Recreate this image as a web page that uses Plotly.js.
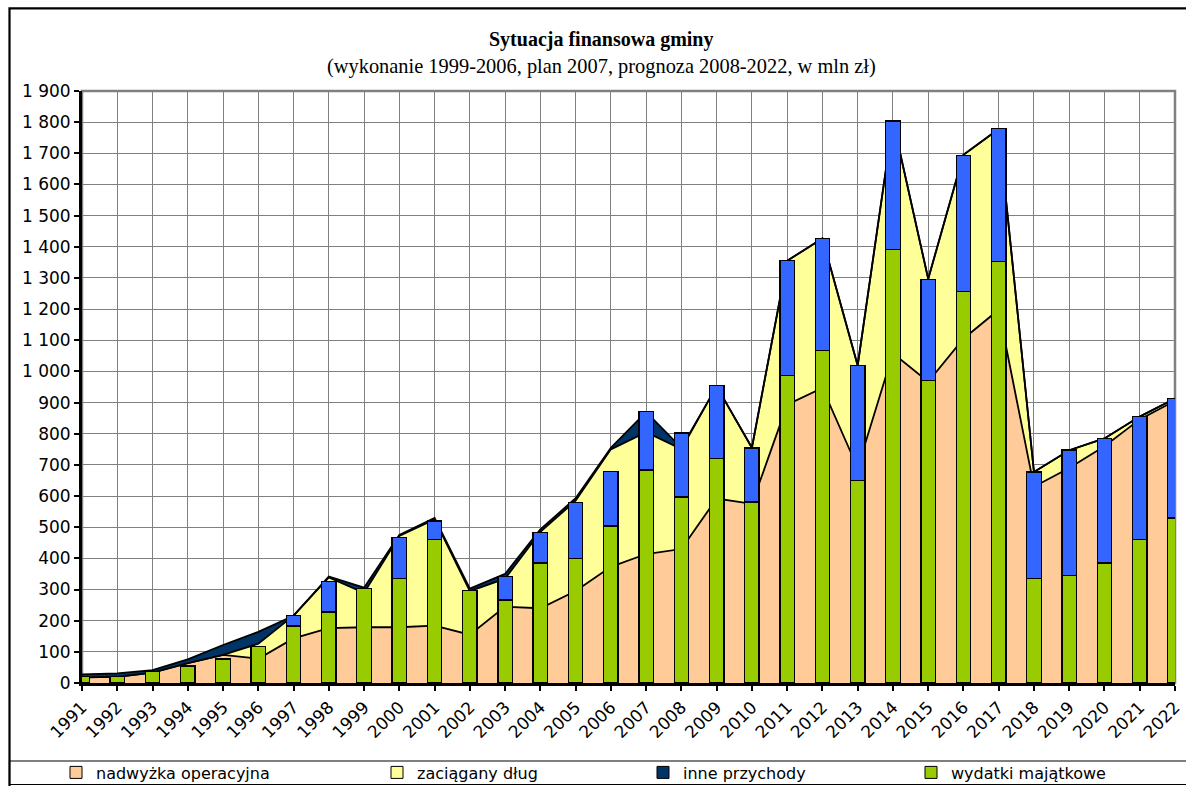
<!DOCTYPE html>
<html>
<head>
<meta charset="utf-8">
<script src="https://cdn.plot.ly/plotly-3.0.1.min.js"></script>
<style>
  html, body { margin: 0; padding: 0; background: #ffffff; }
  #chart { width: 1186px; height: 786px; }
</style>
</head>
<body>
<div id="chart"></div>
<script>
// ---- data (mln zł) ----
const years = [1991, 1992, 1993, 1994, 1995, 1996, 1997, 1998, 1999, 2000,
               2001, 2002, 2003, 2004, 2005, 2006, 2007, 2008, 2009, 2010,
               2011, 2012, 2013, 2014, 2015, 2016, 2017, 2018, 2019, 2020,
               2021, 2022];
// stacked areas
const nadwyzkaOperacyjna = [18, 20, 33, 64, 90, 78, 143, 176, 179, 179,
                            184, 155, 245, 240, 295, 373, 414, 430, 592, 575,
                            893, 947, 690, 1058, 967, 1105, 1198, 630, 690, 760,
                            846, 906];
const zaciaganyDlug = [0, 0, 0, 0, 0, 48, 73, 163, 110, 293,
                       341, 140, 90, 245, 290, 377, 391, 321, 360, 180,
                       462, 480, 329, 746, 330, 590, 580, 47, 57, 25,
                       9, 7];
const innePrzychody = [10, 11, 8, 12, 32, 38, 0, 3, 17, 3,
                       5, 8, 15, 8, 8, 5, 65, 4, 0, 0,
                       0, 0, 0, 0, 0, 0, 0, 0, 0, 0,
                       0, 0];
// stacked bars
const wydatkiMajatkowe = [20, 20, 38, 55, 77, 118, 183, 228, 303, 336,
                          460, 297, 266, 385, 400, 504, 684, 597, 721, 581,
                          988, 1068, 649, 1391, 972, 1256, 1352, 335, 345, 385,
                          460, 530];
const rozchody = [0, 0, 0, 0, 0, 0, 34, 97, 0, 130,
                  60, 0, 75, 97, 179, 175, 188, 205, 233, 173,
                  369, 359, 369, 413, 322, 436, 427, 342, 403, 400,
                  395, 384];
// texts
const titleText = 'Sytuacja finansowa gminy';
const subtitleText = '(wykonanie 1999-2006, plan 2007, prognoza 2008-2022, w mln zł)';
const seriesNames = ['nadwyżka operacyjna', 'zaciągany dług', 'inne przychody', 'wydatki majątkowe'];
const seriesColors = ['#FFCC99', '#FFFF99', '#003366', '#99CC00'];
const blueColor = '#3366FF';

// ---- geometry helpers (pixel -> paper / container) ----
const W = 1186, H = 786;
const M = {l: 82, r: 11, t: 91, b: 103};
const PW = W - M.l - M.r, PH = H - M.t - M.b;
const px = x => (x - M.l) / PW;
const py = y => (H - M.b - y) / PH;
const cx = x => x / W;
const cy = y => 1 - y / H;

const xRange = [years[0], years[years.length - 1]];
const yRange = [0, 1900];

const areaLine = {color: '#000000', width: 1.8, shape: 'linear'};
const traces = [];
const areaSeries = [nadwyzkaOperacyjna, zaciaganyDlug, innePrzychody];
areaSeries.forEach((vals, i) => {
  traces.push({
    type: 'scatter', mode: 'lines', x: years, y: vals,
    stackgroup: 'przychody', name: seriesNames[i],
    line: areaLine, fillcolor: seriesColors[i],
    showlegend: false, hoverinfo: 'x+y+name',
    xaxis: 'x', yaxis: 'y'
  });
});

const barLine = {color: '#000000', width: 1.3};
traces.push({
  type: 'bar', x: years, y: wydatkiMajatkowe, name: seriesNames[3],
  marker: {color: seriesColors[3], line: barLine}, width: 0.41,
  showlegend: false, xaxis: 'x2', yaxis: 'y2'
});
traces.push({
  type: 'bar', x: years, y: rozchody.map(v => v || null), name: 'rozchody',
  marker: {color: blueColor, line: barLine}, width: 0.41,
  showlegend: false, xaxis: 'x2', yaxis: 'y2'
});

// legend entries (square symbols like the original)
const legendIds = ['legend', 'legend2', 'legend3', 'legend4'];
seriesNames.forEach((nm, i) => {
  traces.push({
    type: 'bar', x: [years[0]], y: [null], name: nm,
    marker: {color: seriesColors[i], line: {color: '#000000', width: 1}},
    showlegend: true, legend: legendIds[i], xaxis: 'x2', yaxis: 'y2',
    hoverinfo: 'skip'
  });
});

const tickFont = {family: 'DejaVu Sans, Verdana, sans-serif', size: 17, color: '#000000'};
const legendFont = {family: 'DejaVu Sans, Verdana, sans-serif', size: 16, color: '#000000'};
const symbolCenters = [76, 397, 663, 931];

const layout = {
  width: W, height: H,
  margin: M,
  paper_bgcolor: '#ffffff', plot_bgcolor: '#ffffff',
  separators: ', ',
  barmode: 'stack',
  showlegend: true,
  xaxis: {
    type: 'linear', range: xRange, autorange: false, automargin: false,
    tick0: years[0], dtick: 1, tickmode: 'linear',
    showgrid: true, gridcolor: '#808080', gridwidth: 1,
    zeroline: false,
    showline: true, linecolor: '#000000', linewidth: 2.5,
    ticks: 'outside', ticklen: 5, tickwidth: 2, tickcolor: '#000000',
    tickangle: -45, tickfont: tickFont
  },
  yaxis: {
    range: yRange, autorange: false, automargin: false,
    tick0: 0, dtick: 100, tickmode: 'linear',
    separatethousands: true, tickformat: ',d',
    showgrid: true, gridcolor: '#808080', gridwidth: 1,
    zeroline: false,
    showline: true, linecolor: '#000000', linewidth: 3,
    ticks: 'outside', ticklen: 5, tickwidth: 2, tickcolor: '#000000',
    tickfont: tickFont
  },
  xaxis2: {overlaying: 'x', type: 'linear', range: xRange, autorange: false, visible: false},
  yaxis2: {overlaying: 'y', range: yRange, autorange: false, visible: false},
  annotations: [
    {text: '<b>' + titleText + '</b>', xref: 'paper', yref: 'paper',
     x: px(601), y: py(40), xanchor: 'center', yanchor: 'middle', showarrow: false,
     font: {family: 'Liberation Serif, Times New Roman, serif', size: 20, color: '#000000'}},
    {text: subtitleText, xref: 'paper', yref: 'paper',
     x: px(601), y: py(67), xanchor: 'center', yanchor: 'middle', showarrow: false,
     font: {family: 'Liberation Serif, Times New Roman, serif', size: 20.4, color: '#000000'}}
  ],
  shapes: [
    // plot area border (grey)
    {type: 'rect', xref: 'paper', yref: 'paper', x0: 0, y0: 0, x1: 1, y1: 1,
     line: {color: '#808080', width: 2.5}, layer: 'below'},
    // outer chart frame
    {type: 'rect', xref: 'paper', yref: 'paper', x0: px(9.5), y0: py(8.3), x1: px(1210), y1: py(810),
     line: {color: '#000000', width: 2.2}, fillcolor: 'rgba(0,0,0,0)'},
    // legend box
    {type: 'rect', xref: 'paper', yref: 'paper', x0: px(9.5), y0: py(761), x1: px(1210), y1: py(784.5),
     line: {color: '#000000', width: 1.2}, fillcolor: 'rgba(0,0,0,0)'}
  ]
};
legendIds.forEach((id, i) => {
  layout[id] = {
    orientation: 'h', xref: 'container', yref: 'container',
    x: cx(symbolCenters[i] - 20), y: cy(772.5), xanchor: 'left', yanchor: 'middle',
    bgcolor: 'rgba(0,0,0,0)', borderwidth: 0, font: legendFont
  };
});

Plotly.newPlot('chart', traces, layout, {displayModeBar: false, responsive: false});
</script>
</body>
</html>
